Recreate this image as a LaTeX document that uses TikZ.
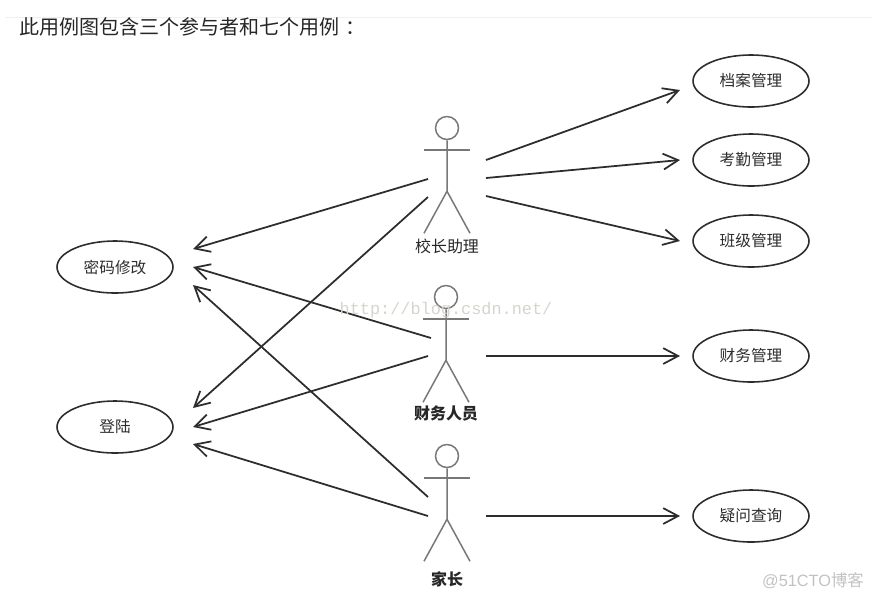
\documentclass[tikz,border=0pt]{standalone}
\usepackage{fontspec}
\setmainfont{Noto Sans CJK SC}
\newfontfamily\markfont{Liberation Mono}
\newfontfamily\ctofont{Liberation Sans}
\usepackage{tikz}
\usetikzlibrary{arrows.meta, shapes.geometric}
\usepackage{xcolor}
\definecolor{inkdark}{RGB}{45,45,45}
\definecolor{stickgray}{RGB}{120,120,120}
\definecolor{markgray}{RGB}{214,212,204}

\begin{document}
\begin{tikzpicture}[x=0.02cm, y=-0.02cm,
    usecase/.style={draw=inkdark, line width=0.9pt, ellipse, inner sep=0pt,
      minimum width=2.32cm, minimum height=1.04cm, font=\fontsize{8.9}{10}\selectfont, text=inkdark},
    actorhead/.style={draw=stickgray, line width=0.85pt, circle, inner sep=0pt, minimum size=0.46cm},
    stick/.style={draw=stickgray, line width=0.85pt},
    assoc/.style={draw=inkdark, line width=1pt, -{Straight Barb[length=8.5pt, width=9pt, line width=1pt]}}]
  \useasboundingbox (0,0) rectangle (872,600);
  \draw[gray!12] (5,17) -- (872,17);
  \node[anchor=west, inner sep=0pt, font=\fontsize{11.4}{13}\selectfont, text=black!85] (title) at (19,27) {此用例图包含三个参与者和七个用例\hspace{0.3em}：};
  % Use cases
  \foreach \name/\x/\y/\txt in {archive/751/81/档案管理, attend/751/160/考勤管理, classes/751/241/班级管理,
      finance/751/356/财务管理, query/751/516/疑问查询, passwd/115/267/密码修改, login/115/427/登陆} {
    \node[usecase] (\name) at (\x,\y) {\txt};
  }
  % Actors
  \foreach \name/\x/\y/\ly/\txt/\wt in {aide/447/128/246/校长助理/\mdseries, staff/446/297/413/财务人员/\bfseries, parent/447/456/579/家长/\bfseries} {
    \node[actorhead] (\name) at (\x,\y) {};
    \draw[stick] (\name.south) -- ++(0,51) coordinate (\name-hip) -- ++(-23,42);
    \draw[stick] (\name-hip) -- ++(23,42);
    \draw[stick] (\name.south) ++(-23,9.5) -- ++(46,0);
    \node[font=\fontsize{9.1}{11}\selectfont\wt, text=black!85] (\name-label) at (\x,\ly) {\txt};
  }
  % Free ends of the connectors
  \foreach \name/\x/\y in {aide-a/486/160, aide-b/486/178, aide-c/486/196, aide-d/428/179, aide-e/428/197,
      staff-a/486/356, staff-b/431/338, staff-c/428/356, parent-a/486/516, parent-b/428/497, parent-c/428/516,
      archive-in/680/90, attend-in/680/160, classes-in/680/241, finance-in/680/356, query-in/680/516,
      passwd-a/193/249, passwd-b/193/267, passwd-c/193/285, login-a/193/408, login-b/193/427, login-c/193/444} {
    \coordinate (\name) at (\x,\y);
  }
  \foreach \a/\b in {aide-a/archive-in, aide-b/attend-in, aide-c/classes-in, aide-d/passwd-a, aide-e/login-a,
      staff-a/finance-in, staff-b/passwd-b, staff-c/login-b,
      parent-a/query-in, parent-b/passwd-c, parent-c/login-c} {
    \draw[assoc] (\a) -- (\b);
  }
  % Watermarks
  \node[font=\markfont\fontsize{9.6}{12}\selectfont, text=markgray] (csdn) at (446,310) {http://blog.csdn.net/};
  \node[font=\fontsize{9.3}{12}\selectfont, text=black!24] (cto) at (813,581) {{\ctofont @51CTO}博客};
\end{tikzpicture}
\end{document}
